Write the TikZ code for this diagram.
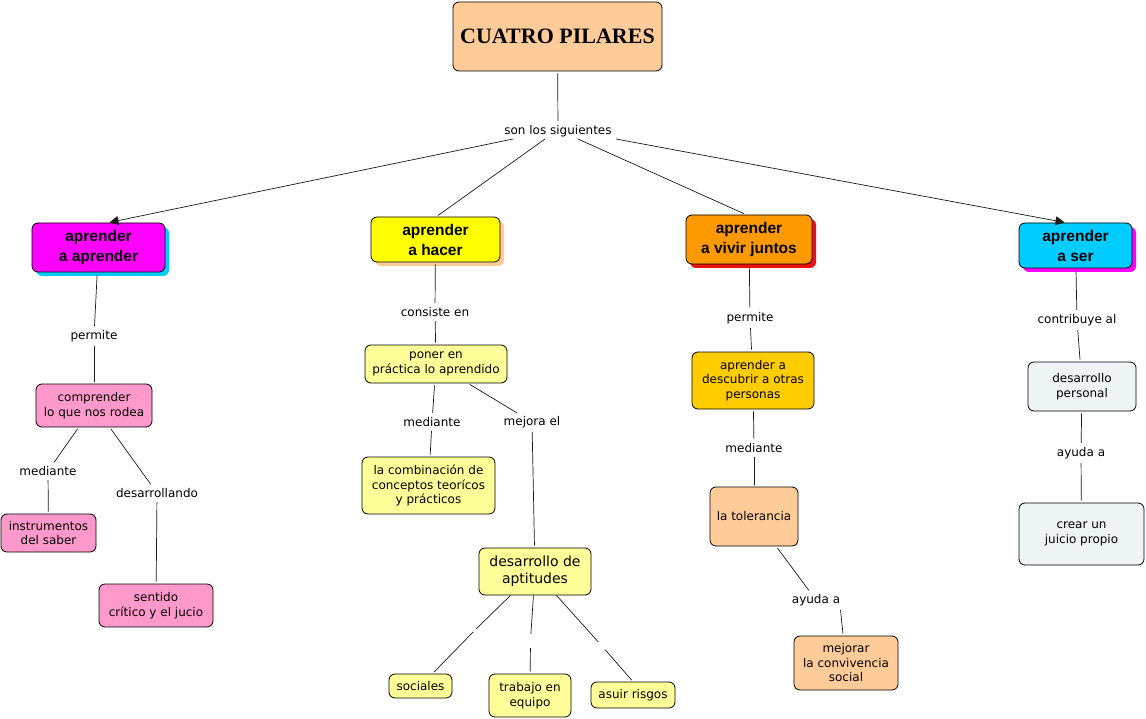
\documentclass[tikz,border=0pt]{standalone}
\usepackage{fontspec}
\newfontfamily\verd{DejaVu Sans}
\newfontfamily\arb{Liberation Sans}
\newfontfamily\tit{Liberation Serif}
\usetikzlibrary{shadows,arrows.meta}
\definecolor{peach}{HTML}{FFCC99}
\definecolor{pinkb}{HTML}{FF99CC}
\definecolor{lyel}{HTML}{FFFF99}
\definecolor{magb}{HTML}{FF00FF}
\definecolor{yelb}{HTML}{FFFF00}
\definecolor{orab}{HTML}{FF9900}
\definecolor{cyab}{HTML}{00CCFF}
\definecolor{gold}{HTML}{FFCC00}
\definecolor{pale}{HTML}{EEF3F6}
\definecolor{redb}{HTML}{EE1111}
\begin{document}
\begin{tikzpicture}[x=1pt,y=-1pt,
  box/.style={draw=black,line width=0.8pt,rounded corners=6pt,inner sep=0pt,align=center,
    font=\verd\fontsize{12}{14.5}\selectfont},
  topbox/.style={box,font=\arb\bfseries\fontsize{15.5}{20}\selectfont},
  sh/.style={drop shadow={shadow xshift=4pt,shadow yshift=-4pt,fill=#1,opacity=1}},
  lab/.style={inner sep=2pt,font=\verd\fontsize{12}{14}\selectfont},
  con/.style={line width=0.7pt,draw=black!90,shorten <=2pt,shorten >=2pt},
  arr/.style={line width=0.7pt,draw=black!90,-{Triangle[length=9pt,width=9pt]}},
  gapn/.style={circle,inner sep=0pt,minimum size=#1}
]
\useasboundingbox (0,0) rectangle (1146,719);
\fill[white] (0,0) rectangle (1146,719);

% title
\node[box,fill=peach,minimum width=209pt,minimum height=69pt,font=\tit\bfseries\fontsize{22}{24}\selectfont] (title) at (557.5,36.5) {CUATRO PILARES};
\node[lab] (son) at (558,131) {son los siguientes};

% top level
\node[topbox,fill=magb,sh=cyab,minimum width=133pt,minimum height=49pt] (aa) at (98.5,247.5) {aprender\\a aprender};
\node[topbox,fill=yelb,sh=peach,minimum width=129pt,minimum height=45pt] (hac) at (435.5,239.5) {aprender\\a hacer};
\node[topbox,fill=orab,sh=redb,minimum width=126pt,minimum height=49pt] (viv) at (749,239.5) {aprender\\a vivir juntos};
\node[topbox,fill=cyab,sh=magb,minimum width=113pt,minimum height=45pt] (ser) at (1075.5,245.5) {aprender\\a ser};

\draw[con] (title) -- (son);
\draw[arr,shorten >=1pt] ([xshift=-45pt]son.south) -- ([xshift=10pt]aa.north);
\draw[con,shorten <=0pt] ([xshift=-13pt]son.south) -- ([xshift=1pt]hac.north);
\draw[con,shorten <=0pt] ([xshift=20pt]son.south) -- ([xshift=-3pt]viv.north);
\draw[arr,shorten >=1pt] ([xshift=58pt]son.south) -- ([xshift=-10pt]ser.north);

% left branch
\node[lab] (perm1) at (94,336) {permite};
\node[box,fill=pinkb,minimum width=116pt,minimum height=43pt] (com) at (94,405.5) {comprender\\lo que nos rodea};
\node[lab] (med1) at (48,471) {mediante};
\node[box,fill=pinkb,minimum width=95pt,minimum height=38pt] (ins) at (48.5,533) {instrumentos\\del saber};
\node[lab] (desl) at (157,493) {desarrollando};
\node[box,fill=pinkb,minimum width=114pt,minimum height=43pt] (sen) at (156,605.5) {sentido\\crítico y el jucio};
\draw[con] (aa) -- (perm1);
\draw[con] (perm1) -- (com);
\draw[con] (com) -- (med1);
\draw[con] (med1) -- (ins);
\draw[con] (com) -- (desl);
\draw[con] (desl) -- (sen);

% middle branch
\node[lab] (cons) at (435,312) {consiste en};
\node[box,fill=lyel,minimum width=142pt,minimum height=38pt] (pon) at (436,364) {poner en\\práctica lo aprendido};
\node[lab] (med2) at (432,422) {mediante};
\node[box,fill=lyel,minimum width=133pt,minimum height=57pt] (comb) at (428.5,485.5) {la combinación de\\conceptos teorícos\\y prácticos};
\node[lab] (mejo) at (532,422) {mejora el};
\node[box,fill=lyel,minimum width=112pt,minimum height=47pt,font=\verd\fontsize{14}{17}\selectfont] (dap) at (535,571.5) {desarrollo de\\aptitudes};
\node[box,fill=lyel,minimum width=63pt,minimum height=24pt] (soc) at (420.5,686) {sociales};
\node[box,fill=lyel,minimum width=82pt,minimum height=43pt] (tra) at (530,695.5) {trabajo en\\equipo};
\node[box,fill=lyel,minimum width=84pt,minimum height=26pt] (asu) at (633,695) {asuir risgos};
\node[gapn=2pt] (e1) at (475.5,629.5) {};
\node[gapn=12pt] (e2) at (530.5,640) {};
\node[gapn=8pt] (e3) at (601,645) {};
\draw[con] (dap) -- (e1) -- (soc);
\draw[con] (dap) -- (e2) -- (tra);
\draw[con] (dap) -- (e3) -- (asu.north);
\draw[con] (hac) -- (cons);
\draw[con] (cons) -- (pon);
\draw[con] (pon) -- (med2);
\draw[con] (med2) -- (comb);
\draw[con] (pon) -- (mejo);
\draw[con] (mejo) -- (dap);

% vivir juntos branch
\node[lab] (perm2) at (750,318) {permite};
\node[box,fill=gold,minimum width=122pt,minimum height=57pt] (desc) at (753,380.5) {aprender a\\descubrir a otras\\personas};
\node[lab] (med3) at (754,448) {mediante};
\node[box,fill=peach,minimum width=88pt,minimum height=59pt] (tol) at (754,516.5) {la tolerancia};
\node[lab] (ayu1) at (816,600) {ayuda a};
\node[box,fill=peach,minimum width=104pt,minimum height=54pt] (mej) at (846,663) {mejorar\\la convivencia\\social};
\draw[con] (viv) -- (perm2);
\draw[con] (perm2) -- (desc);
\draw[con] (desc) -- (med3);
\draw[con] (med3) -- (tol);
\draw[con] (tol) -- (ayu1);
\draw[con] ([xshift=-2pt]ayu1.south east) -- (mej);

% ser branch
\node[lab] (contr) at (1077,320) {contribuye al};
\node[box,fill=pale,minimum width=108pt,minimum height=49pt] (dper) at (1082,386.5) {desarrollo\\personal};
\node[lab] (ayu2) at (1081,453) {ayuda a};
\node[box,fill=pale,minimum width=125pt,minimum height=62pt] (crear) at (1081.5,534) {crear un\\juicio propio};
\draw[con] (ser) -- (contr);
\draw[con] (contr) -- (dper);
\draw[con] (dper) -- (ayu2);
\draw[con] (ayu2) -- (crear);
\end{tikzpicture}
\end{document}
